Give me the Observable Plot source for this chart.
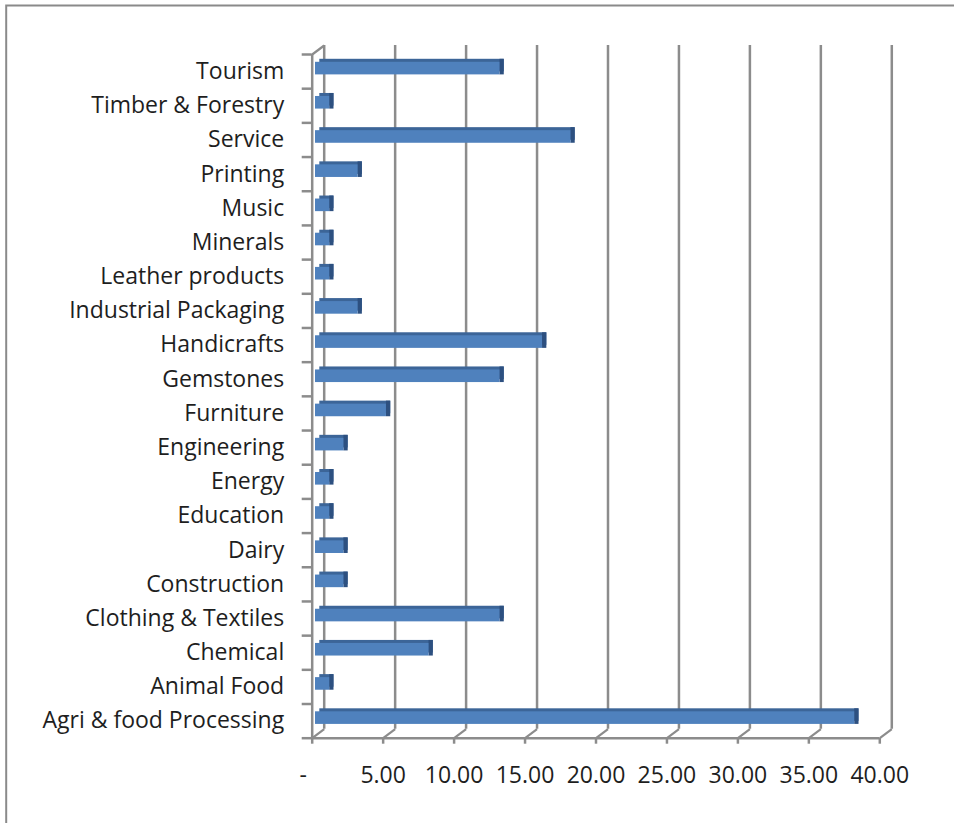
<!DOCTYPE html>
<html><head><meta charset="utf-8">
<script src="https://cdn.jsdelivr.net/npm/d3@7"></script>
<script src="https://cdn.jsdelivr.net/npm/@observablehq/plot@0.6"></script>
<style>
html,body{margin:0;padding:0;background:#fff;overflow:hidden;}
#chart svg{display:block;overflow:hidden;}
</style></head><body><div id="chart"></div>
<script>
// Data (bottom to top, as in the chart)
const categories = ["Agri & food Processing","Animal Food","Chemical","Clothing & Textiles","Construction","Dairy","Education","Energy","Engineering","Furniture","Gemstones","Handicrafts","Industrial Packaging","Leather products","Minerals","Music","Printing","Service","Timber & Forestry","Tourism"];
const values = [38,1,8,13,2,2,1,1,2,5,13,16,3,1,1,1,3,18,1,13];
const xTicks = [0,5,10,15,20,25,30,35,40];
const xTickLabels = ["-\u00a0\u00a0\u00a0","5.00","10.00","15.00","20.00","25.00","30.00","35.00","40.00"];

const data = categories.map((c, i) => ({cat: c, value: values[i], pos: i + 0.5}));
const n = categories.length;

// layout
const W = 954, H = 823;
const mL = 311.7, mR = 74.7, mT = 54, mB = 85.3;
const xMax = xTicks[xTicks.length - 1];
const kx = (W - mL - mR) / xMax;   // px per unit
const ky = (H - mT - mB) / n;       // px per category
const wallDx = 12, wallDy = -9;     // back wall offset
const barDx = 3.3, barDy = -3;      // bar front face offset
const depthDx = 4.3, depthDy = -3;  // bar depth
const barHalf = 6.3;
const lineColor = "#8c8c8c";

const chart = Plot.plot({
  width: W, height: H,
  marginLeft: mL, marginRight: mR, marginTop: mT, marginBottom: mB,
  style: {fontFamily: "'Open Sans', Lato, sans-serif", fontSize: "23px", color: "#1e1e1e", background: "#fff", overflow: "hidden"},
  x: {domain: [0, xMax], ticks: xTicks, tickFormat: d => xTickLabels[xTicks.indexOf(d)], tickSize: 0, tickPadding: 28.5, label: null},
  y: {domain: [0, n], ticks: data.map(d => d.pos), tickFormat: d => categories[Math.floor(d)], tickSize: 0, tickPadding: 28, label: null},
  marks: [
    // outer border
    Plot.frame({stroke: "#8a8a8a", strokeWidth: 2, insetLeft: -(mL - 5.7), insetTop: -(mT - 5), insetRight: -150, insetBottom: -150}),
    // back wall gridlines (incl. left & right wall back edges)
    Plot.ruleX(xTicks, {x: d => d, y1: 0, y2: n, dx: wallDx, dy: wallDy, stroke: lineColor, strokeWidth: 2.5}),
    // floor diagonals
    Plot.link(xTicks, {x1: d => d, y1: 0, x2: d => d + wallDx / kx, y2: -wallDy / ky, stroke: lineColor, strokeWidth: 2.2}),
    // top-left diagonal of left wall
    Plot.link([0], {x1: 0, y1: n, x2: wallDx / kx, y2: n - wallDy / ky, stroke: lineColor, strokeWidth: 2.2}),
    // front axis lines
    Plot.ruleX([0], {x: d => d, y1: 0, y2: n, stroke: lineColor, strokeWidth: 2.5}),
    Plot.ruleY([0], {y: d => d, x1: 0, x2: xMax, stroke: lineColor, strokeWidth: 2.5}),
    // tick marks
    Plot.ruleX(xTicks, {x: d => d, y1: 0, y2: 0, insetBottom: -6, stroke: lineColor, strokeWidth: 2.5}),
    Plot.ruleY(d3.range(n + 1), {y: d => d, x1: 0, x2: 0, insetLeft: -10, stroke: lineColor, strokeWidth: 2.5}),
    // bars: top face, right face, front face
    Plot.rect(data, {x1: 0, x2: "value", y1: "pos", y2: "pos", insetTop: -barHalf, insetBottom: -barHalf,
      dx: barDx + depthDx, dy: barDy + depthDy, fill: "#3c6598"}),
    Plot.rect(data, {x1: "value", x2: "value", y1: "pos", y2: "pos", insetTop: -(barHalf - depthDy / 2), insetBottom: -(barHalf - depthDy / 2),
      insetLeft: 0, insetRight: -depthDx, dx: barDx, dy: barDy + depthDy / 2, fill: "#2d5080"}),
    Plot.rect(data, {x1: 0, x2: "value", y1: "pos", y2: "pos", insetTop: -barHalf, insetBottom: -barHalf,
      dx: barDx, dy: barDy, fill: "#4f81bd"})
  ]
});
document.getElementById("chart").appendChild(chart);
</script>
</body></html>
